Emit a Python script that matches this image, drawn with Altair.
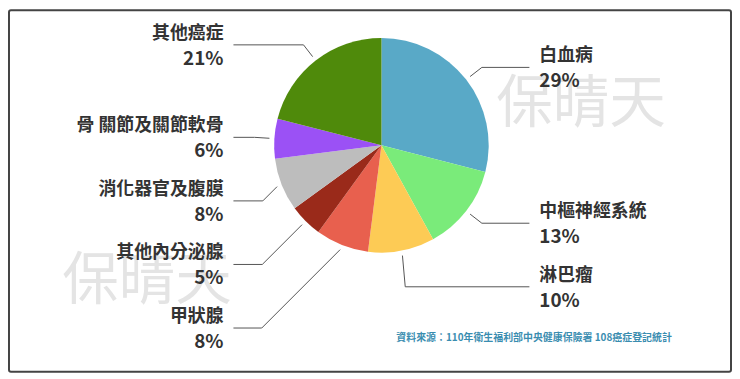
import math
import altair as alt
import pandas as pd

# ---- data ----
categories = ["白血病", "中樞神經系統", "淋巴瘤", "甲狀腺", "其他內分泌腺",
              "消化器官及腹膜", "骨 關節及關節軟骨", "其他癌症"]
values = [29, 13, 10, 8, 5, 8, 6, 21]
colors = ["#59A9C7", "#7AEB7A", "#FDCB55", "#E8604E", "#9A2A1A",
          "#BDBDBD", "#9B51F5", "#4F8A0B"]
watermark = "保晴天"
source_text = "資料來源：110年衛生福利部中央健康保險署 108癌症登記統計"

# ---- layout constants ----
W, H = 729, 366
CX, CY, R = 376, 137, 108
FONT = "Noto Sans CJK TC"

# ---- compute label layout from the values (leader lines, pushed apart) ----
total = sum(values)
items = []
cum = 0
for i, (c, v) in enumerate(zip(categories, values)):
    mid = (cum + v / 2) / total * 2 * math.pi
    cum += v
    s, co = math.sin(mid), math.cos(mid)
    items.append(dict(idx=i, category=c, value=v, pct=f"{v}%",
                      side=1 if s > 0 else -1,
                      sx=CX + (R + 5) * s, sy=CY - (R + 5) * co,
                      nx=CX + (R + 20) * s, ny=CY - (R + 20) * co))

GAP = 64
for side in (1, -1):
    group = sorted([it for it in items if it["side"] == side], key=lambda d: d["ny"])
    prev = -1e9
    for it in group:
        ey = max(it["ny"], prev + GAP)
        prev = ey
        it["ey"] = ey
        if ey - it["ny"] > 1 and side == -1:
            it["ex"] = it["sx"] - (ey - it["sy"])
        else:
            it["ex"] = it["nx"]
        it["hx"] = CX + side * 149
        it["tx"] = CX + side * 159
        it["ny_text"] = ey - 11
        it["py_text"] = ey + 14

df = pd.DataFrame(items)

segs = []
for it in items:
    segs.append(dict(x=it["sx"], y=it["sy"], x2=it["ex"], y2=it["ey"]))
    segs.append(dict(x=it["ex"], y=it["ey"], x2=it["hx"], y2=it["ey"]))
seg_df = pd.DataFrame(segs)

xs = alt.Scale(domain=[0, W], range=[0, W], nice=False, zero=False)
ys = alt.Scale(domain=[0, H], range=[0, H], nice=False, zero=False)

one = alt.Data(values=[{"a": 1}])

border = alt.Chart(one).mark_rect(
    fillOpacity=0, stroke="#444444", strokeWidth=2, cornerRadius=2
).encode(x=alt.value(1), x2=alt.value(W - 1), y=alt.value(1), y2=alt.value(H - 1))

wm1 = alt.Chart(one).mark_text(
    text=watermark, font=FONT, fontSize=57, color="#E4E4E4", align="center", baseline="middle"
).encode(x=alt.value(577), y=alt.value(97))
wm2 = alt.Chart(one).mark_text(
    text=watermark, font=FONT, fontSize=57, color="#E4E4E4", align="center", baseline="middle"
).encode(x=alt.value(140), y=alt.value(275))

pie = alt.Chart(df).mark_arc(radius=R).encode(
    theta=alt.Theta("value:Q", stack=True),
    color=alt.Color("category:N", scale=alt.Scale(domain=categories, range=colors), legend=None),
    order=alt.Order("idx:Q", sort="ascending"),
    x=alt.value(CX), y=alt.value(CY),
)

lines = alt.Chart(seg_df).mark_rule(color="#555555", strokeWidth=1).encode(
    x=alt.X("x:Q", scale=xs, axis=None), y=alt.Y("y:Q", scale=ys, axis=None),
    x2="x2:Q", y2="y2:Q",
)

def text_layers(side, align):
    base = alt.Chart(df).transform_filter(f"datum.side == {side}")
    name = base.mark_text(font=FONT, fontSize=18, fontWeight="bold", color="#333333",
                          align=align, baseline="middle").encode(
        x=alt.X("tx:Q", scale=xs, axis=None), y=alt.Y("ny_text:Q", scale=ys, axis=None),
        text="category:N")
    pct = base.mark_text(font=FONT, fontSize=19, fontWeight="bold", color="#333333",
                         align=align, baseline="middle").encode(
        x=alt.X("tx:Q", scale=xs, axis=None), y=alt.Y("py_text:Q", scale=ys, axis=None),
        text="pct:N")
    return [name, pct]

src = alt.Chart(one).mark_text(
    text=source_text, font=FONT, fontSize=10, fontWeight="bold", color="#3A8DB0",
    align="left", baseline="middle"
).encode(x=alt.value(391), y=alt.value(331))

chart = alt.layer(
    border, wm1, wm2, pie, lines, *text_layers(1, "left"), *text_layers(-1, "right"), src
).properties(
    width=W, height=H, autosize=alt.AutoSizeParams(type="none"), padding=0,
    background="white"
).configure_view(stroke=None)

chart.save("out.html", embed_options={"renderer": "svg", "actions": False})
